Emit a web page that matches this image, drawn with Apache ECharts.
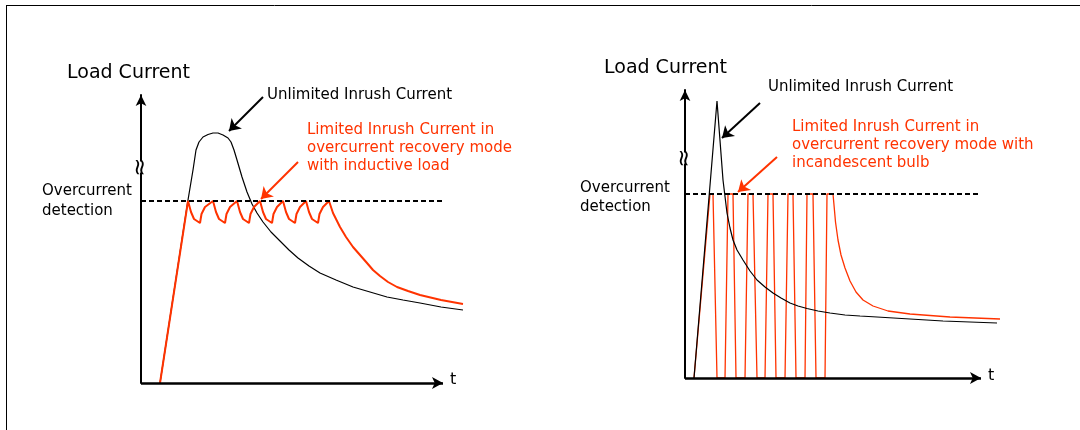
<!DOCTYPE html>
<html><head><meta charset="utf-8">
<script src="https://cdn.jsdelivr.net/npm/echarts@6/dist/echarts.min.js"></script>
<style>html,body{margin:0;padding:0;background:#fff}#c{width:1080px;height:430px}</style>
</head><body><div id="c"></div><script>
// ---- Data (time units, current units; origin at axis corner) ----
// Left panel: inductive load
const leftUnlimited = [[19,0],[47,183],[52,213],[55,233],[58,241],[62,246],[67,248.5],[72,250],[77,250],[82,248],[87,245],[90,241],[93,233],[96,223],[101,206],[106,191],[111,179],[116,170],[122,161],[130,151],[139,142],[148,133],[157,125],[168,117],[179,110],[195,103],[212,96],[229,91],[246,86],[262,83],[279,80],[300,76],[322,73]];
const leftLimited = [[19,0],[47,182],
  [50,171],[53,164],[59,160],[60.5,169],[64,176],[72,182],
  [75,171],[78,164],[84,160],[85.5,169],[89,176],[96,182],
  [99,171],[102,164],[108,160],[109.5,169],[113,176],[119,182],
  [122,171],[125,164],[131,160],[132.5,169],[136,176],[142,182],
  [145,171],[148,164],[154,160],[155.5,169],[159,176],[165,182],
  [168,171],[171,164],[177,160],[178.5,169],[182,176],[188,182],
  [192,170],[199,156],[205,146],[212,136],[219,128],[226,120],[232,113],[239,107],[247,101],[256,96],[267,92],[279,88],[300,83],[322,79]];
const leftThreshold = 182;
const leftThresholdEnd = 302;
const leftBreak = 216;
const leftAxisEnd = 302;
// Right panel: incandescent bulb
const rightUnlimited = [[9,0],[32,277],[38,198],[42,165],[45,150],[48,138],[52,128],[58,118],[65,107],[72,98],[80,91],[88,85],[96,80],[105,75],[113,72],[122,69.5],[133,67],[145,65],[160,63],[175,62],[192,61],[225,59],[258,57],[312,55]];
const rightLimited = [[9,0],[25,184],[28,184],[32,0],[40,0],[43,184],[48,184],[51,0],[60,0],[63,184],[68,184],[72,0],[80,0],[83,184],[88,184],[91,0],[100,0],[103,184],[108,184],[111,0],[120,0],[122,184],[128,184],[131,0],[140,0],[142,184],[148,184],
  [149,173],[150.5,156],[153,138],[156,123],[160,110],[165,97],[171,86],[178,78],[188,72],[203,67],[225,64],[265,61],[315,59]];
const rightThreshold = 184;
const rightThresholdEnd = 293;
const rightBreak = 220;
const rightAxisEnd = 296;
// Annotation arrows [from, to]
const leftArrowBlack = [[122,286],[88,252]];
const leftArrowRed = [[157,221],[120,184]];
const rightArrowBlack = [[75,275],[37,240]];
const rightArrowRed = [[92,221],[53,186]];
// Texts
const yTitle = 'Load Current';
const xTitle = 't';
const unlimitedText = 'Unlimited Inrush Current';
const detectText = ['Overcurrent', 'detection'];
const leftLimitedText = ['Limited Inrush Current in', 'overcurrent recovery mode', 'with inductive load'];
const rightLimitedText = ['Limited Inrush Current in', 'overcurrent recovery mode with', 'incandescent bulb'];

const RED = '#FF3300';
const FONT = 'DejaVu Sans';

function axisX(gi, max){
  return {type:'value', gridIndex:gi, min:0, max:max, axisTick:{show:false}, axisLabel:{show:false}, splitLine:{show:false},
    axisLine:{show:false}};
}
function axisY(gi, max){
  return {type:'value', gridIndex:gi, min:0, max:max, axisTick:{show:false}, axisLabel:{show:false}, splitLine:{show:false},
    axisLine:{show:true, symbol:['none','arrow'], symbolSize:[8,11], lineStyle:{color:'#000', width:2}}};
}
function lineSeries(gi, data, color, width, z, extra){
  return Object.assign({type:'line', xAxisIndex:gi, yAxisIndex:gi, data:data, showSymbol:false, symbol:'none', clip:false, z:z,
    lineStyle:{color:color, width:width}, itemStyle:{color:color}, animation:false}, extra||{});
}
function arrowSeries(gi, coords, color){
  return {type:'lines', coordinateSystem:'cartesian2d', xAxisIndex:gi, yAxisIndex:gi, z:5,
    symbol:['none','arrow'], symbolSize:11, lineStyle:{color:color, width:2, opacity:1},
    data:[{coords:coords}], animation:false};
}
function breakMark(y){
  return {symbol:'rect', symbolSize:[12,11], itemStyle:{color:'#fff'}, silent:true, z:10,
    label:{show:true, position:'inside', formatter:'\u2248', rotate:90, color:'#000', fontSize:23, fontFamily:FONT},
    data:[{coord:[0,y]}]};
}
function threshLine(y, end){
  return {symbol:'none', silent:true, label:{show:false},
    lineStyle:{color:'#000', type:[5,3], width:2}, data:[[{coord:[0,y]},{coord:[end,y]}]]};
}
function xAxisLine(end){
  return {symbol:['none','arrow'], symbolSize:[9,11], silent:true, label:{show:false},
    lineStyle:{color:'#000', type:'solid', width:2.5}, data:[[{coord:[0,0]},{coord:[end,0]}]]};
}
function txt(x, y, s, color, size){
  return {type:'text', x:x, y:y, style:{text:s, fill:color||'#000', font:(size||15)+'px "'+FONT+'"', textVerticalAlign:'middle', textAlign:'left'}};
}
const graphics = [
  {type:'line', shape:{x1:6, y1:5.5, x2:1080, y2:5.5}, style:{stroke:'#000', lineWidth:1}},
  {type:'line', shape:{x1:6.5, y1:5, x2:6.5, y2:430}, style:{stroke:'#000', lineWidth:1}},
  txt(67, 73, yTitle, '#000', 19),
  txt(267, 95, unlimitedText),
  txt(42, 191, detectText[0]), txt(42, 211, detectText[1]),
  txt(450, 380, xTitle, '#000', 16),
  txt(307, 130, leftLimitedText[0], RED), txt(307, 148, leftLimitedText[1], RED), txt(307, 166, leftLimitedText[2], RED),
  txt(604, 68, yTitle, '#000', 19),
  txt(768, 87, unlimitedText),
  txt(580, 188, detectText[0]), txt(580, 207, detectText[1]),
  txt(988, 376, xTitle, '#000', 16),
  txt(792, 127, rightLimitedText[0], RED), txt(792, 145, rightLimitedText[1], RED), txt(792, 163, rightLimitedText[2], RED)
];
const option = {
  animation:false,
  backgroundColor:'#fff',
  grid:[
    {left:141, top:95, width:322, height:288},
    {left:685, top:90, width:315, height:288}
  ],
  xAxis:[axisX(0, 322), axisX(1, 315)],
  yAxis:[axisY(0, 288), axisY(1, 288)],
  series:[
    lineSeries(0, leftUnlimited, '#000', 1.2, 2, {markPoint:breakMark(leftBreak), markLine:threshLine(leftThreshold, leftThresholdEnd)}),
    lineSeries(0, leftLimited, RED, 2, 3, {markLine:xAxisLine(leftAxisEnd)}),
    arrowSeries(0, leftArrowBlack, '#000'),
    arrowSeries(0, leftArrowRed, RED),
    lineSeries(1, rightLimited, RED, 1.3, 2, {markLine:xAxisLine(rightAxisEnd)}),
    lineSeries(1, rightUnlimited, '#000', 1.2, 3, {markPoint:breakMark(rightBreak), markLine:threshLine(rightThreshold, rightThresholdEnd)}),
    arrowSeries(1, rightArrowBlack, '#000'),
    arrowSeries(1, rightArrowRed, RED)
  ],
  graphic:graphics
};
const chart = echarts.init(document.getElementById('c'), null, {renderer:'canvas'});
chart.setOption(option);
</script></body></html>
